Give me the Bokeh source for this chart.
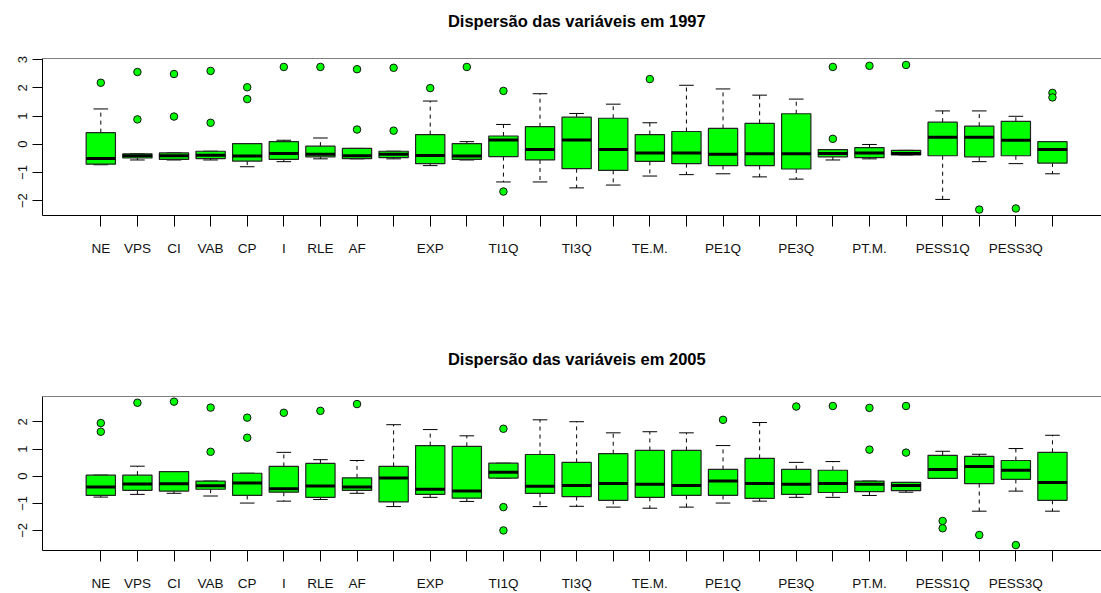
from bokeh.plotting import figure
from bokeh.layouts import column
from bokeh.models import ColumnDataSource, FixedTicker, Range1d, Span
from bokeh.core.properties import value
from bokeh.embed import file_html
from bokeh.resources import INLINE

# ---- variables (tick labels; blanks are positions whose label is not shown) ----
labels = ["NE", "VPS", "CI", "VAB", "CP", "I", "RLE", "AF", "", "EXP", "", "TI1Q", "",
          "TI3Q", "", "TE.M.", "", "PE1Q", "", "PE3Q", "", "PT.M.", "", "PESS1Q", "",
          "PESS3Q", ""]

# ---- 1997 summary statistics ----
q1_1997 = [-0.71, -0.49, -0.54, -0.51, -0.60, -0.54, -0.45, -0.51, -0.48, -0.69, -0.54, -0.44, -0.56,
           -0.87, -0.93, -0.61, -0.69, -0.76, -0.76, -0.88, -0.45, -0.48, -0.38, -0.41, -0.45,
           -0.41, -0.67]
med_1997 = [-0.51, -0.41, -0.41, -0.39, -0.42, -0.33, -0.36, -0.41, -0.36, -0.40, -0.42, 0.15, -0.19,
            0.15, -0.19, -0.31, -0.31, -0.36, -0.34, -0.34, -0.33, -0.31, -0.33, 0.25, 0.25,
            0.14, -0.19]
q3_1997 = [0.41, -0.34, -0.31, -0.25, 0.02, 0.09, -0.07, -0.15, -0.25, 0.34, 0.02, 0.29, 0.62,
           0.96, 0.92, 0.34, 0.45, 0.56, 0.74, 1.08, -0.19, -0.12, -0.22, 0.78, 0.64,
           0.81, 0.09]
lo_1997 = [-0.73, -0.56, -0.56, -0.56, -0.80, -0.62, -0.52, -0.52, -0.52, -0.76, -0.56, -1.34, -1.34,
           -1.55, -1.45, -1.13, -1.08, -1.05, -1.16, -1.24, -0.56, -0.52, -0.38, -1.96, -0.62,
           -0.69, -1.05]
hi_1997 = [1.25, -0.34, -0.31, -0.25, 0.02, 0.14, 0.22, -0.15, -0.25, 1.53, 0.09, 0.70, 1.79,
           1.09, 1.42, 0.76, 2.09, 1.96, 1.74, 1.60, -0.19, -0.01, -0.22, 1.18, 1.18,
           0.99, 0.09]
out_pos_1997 = [1, 2, 2, 3, 3, 4, 4, 5, 5, 6, 7, 8, 8, 9, 9, 10, 11, 12, 12,
                16, 21, 21, 22, 23, 25, 26, 27, 27]
out_val_1997 = [2.18, 2.56, 0.88, 2.49, 0.98, 2.60, 0.76, 2.02, 1.60, 2.74, 2.74, 2.66, 0.52,
                2.71, 0.48, 1.99, 2.74, 1.89, -1.68, 2.31, 2.74, 0.19, 2.78, 2.81, -2.32,
                -2.28, 1.82, 1.66]

# ---- 2005 summary statistics ----
q1_2005 = [-0.71, -0.52, -0.55, -0.48, -0.71, -0.59, -0.78, -0.52, -0.95, -0.67, -0.81, -0.07, -0.63,
           -0.75, -0.89, -0.78, -0.71, -0.71, -0.82, -0.67, -0.60, -0.57, -0.53, -0.08, -0.27,
           -0.12, -0.89]
med_2005 = [-0.40, -0.29, -0.28, -0.35, -0.25, -0.46, -0.36, -0.40, -0.07, -0.48, -0.55, 0.15, -0.37,
            -0.34, -0.27, -0.30, -0.34, -0.18, -0.27, -0.30, -0.27, -0.30, -0.34, 0.25, 0.36,
            0.22, -0.23]
q3_2005 = [0.04, 0.04, 0.17, -0.18, 0.11, 0.36, 0.47, -0.06, 0.36, 1.13, 1.10, 0.48, 0.80,
           0.51, 0.83, 0.95, 0.95, 0.25, 0.66, 0.25, 0.22, -0.18, -0.23, 0.77, 0.73,
           0.58, 0.88]
lo_2005 = [-0.77, -0.67, -0.63, -0.73, -0.99, -0.92, -0.86, -0.63, -1.12, -0.78, -0.93, -0.07, -1.12,
           -1.11, -1.14, -1.18, -1.14, -0.99, -0.92, -0.78, -0.78, -0.71, -0.59, -0.08, -1.29,
           -0.55, -1.29]
hi_2005 = [0.04, 0.37, 0.17, -0.18, 0.11, 0.88, 0.61, 0.58, 1.90, 1.72, 1.49, 0.48, 2.08,
           2.01, 1.60, 1.64, 1.60, 1.13, 1.98, 0.51, 0.54, -0.18, -0.23, 0.92, 0.81,
           1.02, 1.51]
out_pos_2005 = [1, 1, 2, 3, 4, 4, 5, 5, 6, 7, 8, 12, 12, 12, 18, 20, 21, 22, 22, 23, 23,
                24, 24, 25, 26]
out_val_2005 = [1.96, 1.64, 2.71, 2.75, 2.53, 0.90, 2.16, 1.42, 2.34, 2.41, 2.66, 1.75, -1.14, -2.00,
                2.08, 2.57, 2.59, 2.52, 0.98, 2.59, 0.87, -1.65, -1.92, -2.17, -2.54]

titles = ["Dispersão das variáveis em 1997", "Dispersão das variáveis em 2005"]

FONT = "Liberation Sans"
BOX_GREEN = "#00FF00"
WIDTH = 1101
TITLE_H = 40            # height of the strip holding each title
TITLE_X, TITLE_Y = 555.5, 19.8   # anchor of the title inside its strip
X_LO, X_HI = -0.593, 28.34   # the plotting region runs on past the right edge


def title_strip(text):
    # a bare strip (no axes) whose only content is the bold centred title
    t = figure(width=WIDTH, height=TITLE_H, output_backend="svg", toolbar_location=None,
               x_range=Range1d(0, WIDTH), y_range=Range1d(0, TITLE_H),
               x_axis_location=None, y_axis_location=None,
               min_border=0, outline_line_color=None)
    t.grid.visible = False
    t.text(x=[TITLE_X], y=[TITLE_Y], text=[text], text_align="center",
           text_baseline="alphabetic", text_font=value(FONT), text_font_size="16.5px",
           text_font_style="bold", text_color="black")
    return t


def boxplot(q1, med, q3, lo, hi, out_pos, out_val, y_lo, y_hi, yticks,
            height, border_bottom):
    n = len(labels)
    pos = list(range(1, n + 1))
    src = ColumnDataSource(dict(
        x=pos, q1=q1, med=med, q3=q3, lo=lo, hi=hi,
        left=[p - 0.4 for p in pos], right=[p + 0.4 for p in pos],
        cl=[p - 0.2 for p in pos], cr=[p + 0.2 for p in pos],
    ))

    p = figure(width=WIDTH, height=height, output_backend="svg", toolbar_location=None,
               x_range=Range1d(X_LO, X_HI), y_range=Range1d(y_lo, y_hi),
               min_border_left=42, min_border_right=0, min_border_top=18,
               min_border_bottom=border_bottom)
    p.background_fill_color = "white"
    p.border_fill_color = "white"
    p.outline_line_color = None
    p.xgrid.visible = False
    p.ygrid.visible = False

    # top edge of the frame
    p.add_layout(Span(location=y_hi, dimension="width", line_color="black", line_width=1))

    # whiskers (dashed) and staples
    p.segment(x0="x", x1="x", y0="q3", y1="hi", source=src, line_color="black",
              line_width=1, line_dash="4 4")
    p.segment(x0="x", x1="x", y0="q1", y1="lo", source=src, line_color="black",
              line_width=1, line_dash="4 4")
    p.segment(x0="cl", x1="cr", y0="hi", y1="hi", source=src, line_color="black", line_width=1)
    p.segment(x0="cl", x1="cr", y0="lo", y1="lo", source=src, line_color="black", line_width=1)

    # boxes and medians
    p.vbar(x="x", width=0.8, bottom="q1", top="q3", source=src,
           fill_color=BOX_GREEN, line_color="#222222", line_width=1.2)
    p.segment(x0="left", x1="right", y0="med", y1="med", source=src,
              line_color="black", line_width=3, line_cap="butt")

    # outliers
    p.scatter(x=out_pos, y=out_val, marker="circle", size=7.5,
              fill_color=BOX_GREEN, line_color="#111111", line_width=1)

    # x axis
    xa = p.xaxis[0]
    xa.ticker = FixedTicker(ticks=pos)
    xa.major_label_overrides = {i + 1: lab for i, lab in enumerate(labels)}
    xa.major_tick_out = 11
    xa.major_tick_in = 0
    xa.minor_tick_line_color = None
    xa.major_label_standoff = 14
    xa.major_label_text_font = FONT
    xa.major_label_text_font_size = "13.5px"
    xa.major_label_text_color = "#111111"
    xa.axis_line_color = "black"
    xa.major_tick_line_color = "black"

    # y axis
    ya = p.yaxis[0]
    ya.ticker = FixedTicker(ticks=yticks)
    ya.major_label_orientation = "vertical"
    ya.major_tick_out = 10
    ya.major_tick_in = 0
    ya.minor_tick_line_color = None
    ya.major_label_standoff = 5
    ya.major_label_text_font = FONT
    ya.major_label_text_font_size = "13px"
    ya.major_label_text_color = "#111111"
    ya.axis_line_color = "black"
    ya.major_tick_line_color = "black"
    return p


p1 = boxplot(q1_1997, med_1997, q3_1997, lo_1997, hi_1997,
             out_pos_1997, out_val_1997, -2.53, 3.04, [-2, -1, 0, 1, 2, 3],
             338 - TITLE_H, 123)
p2 = boxplot(q1_2005, med_2005, q3_2005, lo_2005, hi_2005,
             out_pos_2005, out_val_2005, -2.74, 2.94, [-2, -1, 0, 1, 2],
             255 - TITLE_H, 40)

layout = column(title_strip(titles[0]), p1, title_strip(titles[1]), p2, spacing=0)
open("out.html", "w").write(file_html(layout, INLINE))
